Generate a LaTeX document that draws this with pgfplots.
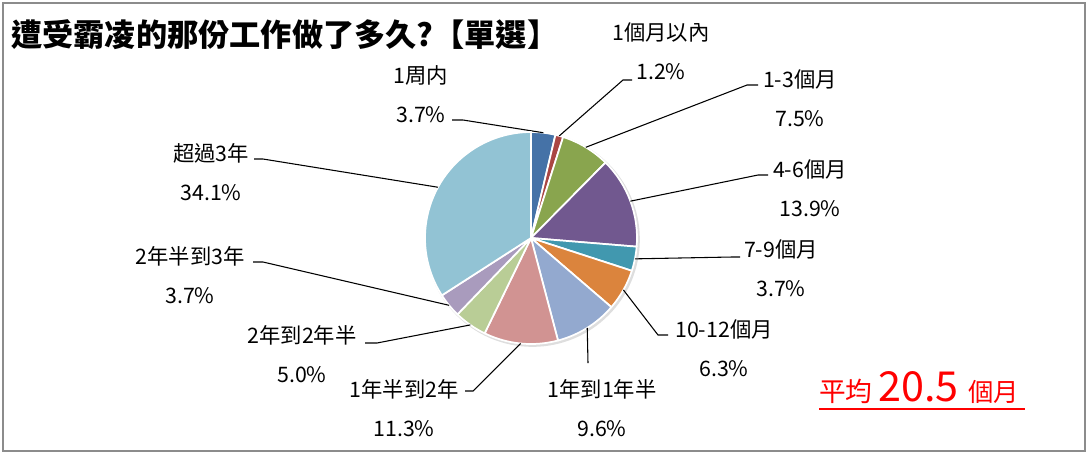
\documentclass[border=0pt]{standalone}
\usepackage{pgfplots}
\usepackage{pgfplotstable}
\pgfplotsset{compat=1.18}
\usepackage{fontspec}
\setmainfont{Noto Sans CJK TC}

\definecolor{c1}{HTML}{4572A7}
\definecolor{c2}{HTML}{AA4643}
\definecolor{c3}{HTML}{89A54E}
\definecolor{c4}{HTML}{71588F}
\definecolor{c5}{HTML}{4198AF}
\definecolor{c6}{HTML}{DB843D}
\definecolor{c7}{HTML}{93A9CF}
\definecolor{c8}{HTML}{D19392}
\definecolor{c9}{HTML}{B9CD96}
\definecolor{c10}{HTML}{A99BBD}
\definecolor{c11}{HTML}{92C3D4}
\definecolor{frame}{HTML}{8C8C8C}

% share in %, slice colour, label centre (lx,ly), tick end hx, elbow (ex,ey) -- pixel coords
\pgfplotstableread{
name       pct   col  lx   ly   hx   ex   ey
1周内       3.7  c1   421  94   452  463  120
1個月以內    1.2  c2   661  51   632  623  80
1-3個月     7.5  c3   800  98   758  747  85
4-6個月    13.9  c4   810  188  768  758  175
7-9個月     3.7  c5   781  268  740  732  257
10-12個月   6.3  c6   724  348  668  658  335
1年到1年半   9.6  c7   602  408  588  588  363
1年半到2年  11.3  c8   404  408  465  473  391
2年到2年半   5.0  c9   302  354  365  377  343
2年半到3年   3.7  c10  190  275  253  263  262
超過3年     34.1  c11  211  172  254  263  159
}\piedata

\tikzset{lbl/.style={font=\fontsize{16}{29}\selectfont, align=center, inner sep=0pt}}

\begin{document}
\begin{tikzpicture}
\begin{axis}[
    scale only axis, width=816pt, height=341.25pt,
    xmin=0, xmax=1088, ymin=0, ymax=455, y dir=reverse,
    axis lines=none, clip=false,
]
\addplot[draw=none] coordinates {(0,0) (1088,455)};
% frame
\draw[frame, line width=1.5pt] (axis cs:3,3) rectangle (axis cs:1085,451);
% title
\node[anchor=west, inner sep=0pt, font=\fontsize{23.4}{23.4}\selectfont\bfseries]
    at (axis cs:11,35) {遭受霸凌的那份工作做了多久?【單選】};
% soft shadow
\fill[black!13] (axis cs:532.5,239.5) circle[radius=80.5pt];
\def\R{79.5pt}
\def\cum{0}
\pgfplotsforeachungrouped \i in {0,...,10}{
    \pgfplotstablegetelem{\i}{name}\of\piedata \let\nm\pgfplotsretval
    \pgfplotstablegetelem{\i}{pct}\of\piedata \let\pct\pgfplotsretval
    \pgfplotstablegetelem{\i}{col}\of\piedata \let\col\pgfplotsretval
    \pgfplotstablegetelem{\i}{lx}\of\piedata \let\lx\pgfplotsretval
    \pgfplotstablegetelem{\i}{ly}\of\piedata \let\ly\pgfplotsretval
    \pgfplotstablegetelem{\i}{hx}\of\piedata \let\hx\pgfplotsretval
    \pgfplotstablegetelem{\i}{ex}\of\piedata \let\ex\pgfplotsretval
    \pgfplotstablegetelem{\i}{ey}\of\piedata \let\ey\pgfplotsretval
    \pgfmathsetmacro\a{90-3.6*\cum}
    \pgfmathsetmacro\b{90-3.6*(\cum+\pct)}
    \pgfmathsetmacro\m{(\a+\b)/2}
    \pgfmathsetmacro\cum{\cum+\pct}
    \edef\temp{%
        \noexpand\fill[\col, draw=white, line width=1.3pt, line join=round]
            (axis cs:531,238) -- ++(\a:\R) arc[start angle=\a, end angle=\b, radius=\R] -- cycle;
        \noexpand\draw[black, line width=0.8pt]
            (axis cs:531,238) ++(\m:\R) -- (axis cs:\ex,\ey) -- (axis cs:\hx,\ey);
        \noexpand\node[lbl] at (axis cs:\lx,\ly)
            {\unexpanded\expandafter{\nm}\noexpand\\\pct\noexpand\%};
    }%
    \temp
}
% average
\node[anchor=base west, inner sep=0pt, text=red] at (axis cs:819,401)
    {\fontsize{20}{20}\selectfont 平均 \fontsize{31}{31}\selectfont 20.5 \fontsize{19}{19}\selectfont 個月};
\draw[red, line width=1.6pt] (axis cs:819,409) -- (axis cs:1025,409);
\end{axis}
\end{tikzpicture}
\end{document}
